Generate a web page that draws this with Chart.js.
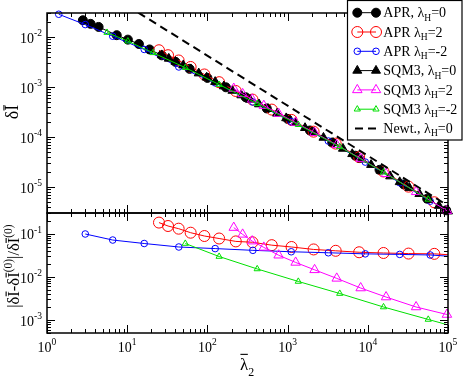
<!DOCTYPE html>
<html><head><meta charset="utf-8">
<script src="https://cdn.jsdelivr.net/npm/chart.js@4.4.1/dist/chart.umd.min.js"></script>
<style>
html,body{margin:0;padding:0;background:#fff;}
#wrap{position:relative;width:463px;height:378px;overflow:hidden;background:#fff;}
canvas{position:absolute;left:0;top:0;}
</style></head><body>
<div id="wrap"><canvas id="bot" width="463" height="378"></canvas><canvas id="top" width="463" height="378"></canvas></div>
<script>
// ---------------- data ----------------
const xTickExp = [0, 1, 2, 3, 4, 5];
const yTopTickExp = [-2, -3, -4, -5];
const yBotTickExp = [-1, -2, -3];

const seriesNames = ['APR, λ_{H}=0', 'APR λ_{H}=2', 'APR λ_{H}=-2', 'SQM3, λ_{H}=0', 'SQM3 λ_{H}=2', 'SQM3 λ_{H}=-2', 'Newt., λ_{H}=0'];

// top panel: delta I vs lambda_2
const lam_APR0 = [2.8, 3.5, 4.4, 7.4, 10.2, 14, 19, 27, 40, 60, 100, 170, 300, 550, 1000, 1900, 3600, 7000, 14000, 28000, 55000, 95000];
const dI_APR0 = [0.0215, 0.0182, 0.0158, 0.0108, 0.0088, 0.0072, 0.0056, 0.00427, 0.00316, 0.00229, 0.00151, 0.00098, 0.00062, 0.00037, 0.000229, 0.000134, 7.7e-5, 4.2e-5, 2.19e-5, 1.12e-5, 5.8e-6, 3.4e-6];

const lam_APR2 = [24.9, 32.3, 43.8, 61.8, 91.7, 140, 226, 365, 635, 1120, 2110, 3980, 7800, 15700, 32200, 67500];
const dI_APR2 = [5.40e-3, 4.30e-3, 3.37e-3, 2.50e-3, 1.77e-3, 1.24e-3, 8.27e-4, 5.57e-4, 3.51e-4, 2.18e-4, 1.27e-4, 7.33e-5, 3.93e-5, 2.03e-5, 1.01e-5, 4.92e-6];

const lam_APRm2 = [1.4, 3.0, 6.6, 16.3, 44, 125, 369, 1110, 3220, 9300, 25000, 60000];
const dI_APRm2 = [0.0283, 0.0176, 0.0103, 0.0056, 0.0025, 1.20e-3, 4.98e-4, 2.02e-4, 8.26e-5, 3.13e-5, 1.21e-5, 5.17e-6];

const lam_SQM0 = [27, 33, 40, 50, 62, 78, 98, 125, 160, 205, 265, 340, 440, 570, 740, 960, 1250, 1650, 2150, 2800, 3700, 4900, 6400, 8400, 11000, 14500, 19000, 25000, 33000, 44000, 58000, 77000, 100000];
const dI_SQM0 = [4.31e-3, 3.68e-3, 3.19e-3, 2.70e-3, 2.26e-3, 1.87e-3, 1.54e-3, 1.26e-3, 1.03e-3, 8.40e-4, 6.81e-4, 5.55e-4, 4.50e-4, 3.63e-4, 2.93e-4, 2.37e-4, 1.90e-4, 1.51e-4, 1.21e-4, 9.65e-5, 7.54e-5, 5.82e-5, 4.55e-5, 3.55e-5, 2.76e-5, 2.11e-5, 1.63e-5, 1.25e-5, 9.58e-6, 7.24e-6, 5.52e-6, 4.19e-6, 3.24e-6];

const lam_SQM2 = [213, 275, 362, 505, 773, 1260, 2170, 4100, 8150, 16900, 40000, 97000];
const dI_SQM2 = [9.27e-4, 7.24e-4, 5.62e-4, 4.21e-4, 2.92e-4, 1.93e-4, 1.21e-4, 6.92e-5, 3.67e-5, 1.83e-5, 7.95e-6, 3.33e-6];

const lam_SQMm2 = [5.6, 10.2, 21, 53, 140, 418, 1360, 4470, 15700, 56700];
const dI_SQMm2 = [0.0122, 0.0082, 0.0048, 2.42e-3, 1.11e-3, 4.62e-4, 1.75e-4, 6.31e-5, 1.96e-5, 5.63e-6];

const lam_Newt = [10, 100000];
const dI_Newt = [0.042, 4.2e-6];

// bottom panel: relative difference (last value of each line-tail array is the line end, no marker)
const relLam_APR2 = [24.9, 32.3, 43.8, 61.8, 91.7, 140, 226, 365, 635, 1120, 2110, 3980, 7800, 15700, 32200, 67500, 100000];
const rel_APR2 = [0.18, 0.15, 0.13, 0.105, 0.088, 0.077, 0.066, 0.063, 0.054, 0.049, 0.043, 0.040, 0.037, 0.0356, 0.0345, 0.034, 0.0325];

const relLam_APRm2 = [3.0, 6.6, 16.3, 44, 125, 369, 1110, 3220, 9300, 25000, 60000, 100000];
const rel_APRm2 = [0.098, 0.071, 0.059, 0.049, 0.045, 0.041, 0.038, 0.036, 0.034, 0.033, 0.032, 0.030];

const relLam_SQM2 = [213, 275, 362, 505, 773, 1260, 2170, 4100, 8150, 16900, 40000, 97000];
const rel_SQM2 = [0.138, 0.096, 0.067, 0.048, 0.0316, 0.0215, 0.0145, 0.0092, 0.0055, 0.0034, 0.0020, 0.00134];

const relLam_SQMm2 = [53, 140, 418, 1360, 4470, 15700, 56700, 100000];
const rel_SQMm2 = [0.059, 0.0295, 0.0152, 0.0078, 0.0041, 0.0020, 0.00103, 0.00077];

// ---------------- helpers ----------------
const FONT = '"Liberation Serif","Times New Roman",serif';
const zip = (xs, ys) => xs.map((x, i) => ({x: x, y: ys[i]}));

const styles = [
  {color: '#000000', fill: '#000000', shape: 'circle', r: 4.5},
  {color: '#ff0000', fill: 'rgba(0,0,0,0)', shape: 'circle', r: 5.5},
  {color: '#0000ff', fill: 'rgba(0,0,0,0)', shape: 'circle', r: 3.3},
  {color: '#000000', fill: '#000000', shape: 'triangle', r: 5.2},
  {color: '#ff00ff', fill: 'rgba(0,0,0,0)', shape: 'triangle', r: 5.5},
  {color: '#00e000', fill: 'rgba(0,0,0,0)', shape: 'triangle', r: 3.6},
  {color: '#000000', dash: [8, 5], width: 2}
];

function parseRich(str) {
  const segs = []; let i = 0, buf = '';
  while (i < str.length) {
    const c = str[i];
    if ((c === '_' || c === '^' || c === '~') && str[i + 1] === '{') {
      if (buf) { segs.push({t: buf, k: 'n'}); buf = ''; }
      const j = str.indexOf('}', i + 2);
      segs.push({t: str.slice(i + 2, j), k: c === '_' ? 'sub' : c === '^' ? 'sup' : 'bar'});
      i = j + 1;
    } else { buf += c; i++; }
  }
  if (buf) segs.push({t: buf, k: 'n'});
  return segs;
}
function drawRich(ctx, str, x, y, size, st, align) {
  const segs = parseRich(str); let w = 0;
  for (const s of segs) {
    s.fs = (s.k === 'sub' || s.k === 'sup') ? size * st.ratio : size;
    ctx.font = s.fs + 'px ' + FONT;
    s.w = ctx.measureText(s.t).width; w += s.w;
  }
  let cx = align === 'right' ? x - w : align === 'center' ? x - w / 2 : x;
  ctx.textAlign = 'left'; ctx.textBaseline = 'alphabetic';
  for (const s of segs) {
    ctx.font = s.fs + 'px ' + FONT;
    const dy = s.k === 'sub' ? size * st.sub : s.k === 'sup' ? -size * st.sup : 0;
    ctx.fillText(s.t, cx, y + dy);
    if (s.k === 'bar') {
      const yy = y - size * st.bar;
      ctx.beginPath(); ctx.lineWidth = 1.1;
      ctx.moveTo(cx + s.w * 0.05, yy); ctx.lineTo(cx + s.w * 0.95, yy); ctx.stroke();
    }
    cx += s.w;
  }
  return w;
}
const tickStyle = {ratio: 0.68, sup: 0.45, sub: 0.25, bar: 0.8};

function drawFrame(chart, opts) {
  const ctx = chart.ctx, a = chart.chartArea, xs = chart.scales.x, ys = chart.scales.y;
  ctx.save();
  ctx.strokeStyle = '#000'; ctx.fillStyle = '#000'; ctx.lineWidth = 1;
  const seg = (x1, y1, x2, y2) => { ctx.beginPath(); ctx.moveTo(x1, y1); ctx.lineTo(x2, y2); ctx.stroke(); };
  const MAJ = 8, MIN = 4;
  for (let k = -1; k <= 6; k++) {
    for (let m = 1; m <= 9; m++) {
      const v = m * Math.pow(10, k);
      if (v < xs.min * 0.999 || v > xs.max * 1.001) continue;
      const p = Math.round(xs.getPixelForValue(v)) + 0.5;
      const L = m === 1 ? MAJ : MIN;
      seg(p, a.bottom, p, a.bottom - L);
      seg(p, a.top, p, a.top + L);
    }
  }
  for (let k = -8; k <= 1; k++) {
    for (let m = 1; m <= 9; m++) {
      const v = m * Math.pow(10, k);
      if (v < ys.min * 0.999 || v > ys.max * 1.001) continue;
      const p = Math.round(ys.getPixelForValue(v)) + 0.5;
      const L = m === 1 ? MAJ : MIN;
      seg(a.left, p, a.left + L, p);
      seg(a.right, p, a.right - L, p);
    }
  }
  ctx.lineWidth = 1.5;
  ctx.strokeRect(a.left, a.top, a.right - a.left, a.bottom - a.top);
  // y tick labels
  for (const e of opts.yExp) {
    const p = ys.getPixelForValue(Math.pow(10, e));
    drawRich(ctx, '10^{' + e + '}', 42, p + 5.7, 14, tickStyle, 'right');
  }
  if (opts.xLabels) {
    for (const e of xTickExp) {
      const p = xs.getPixelForValue(Math.pow(10, e));
      drawRich(ctx, '10^{' + e + '}', p, 351.5, 14, tickStyle, 'center');
    }
  }
  ctx.restore();
}

function drawMarker(ctx, st, x, y) {
  ctx.beginPath();
  if (st.shape === 'circle') {
    ctx.arc(x, y, st.r, 0, Math.PI * 2);
  } else {
    let rad = 0;
    for (let i = 0; i < 3; i++) {
      const px = x + Math.sin(rad) * st.r, py = y - Math.cos(rad) * st.r;
      if (i === 0) ctx.moveTo(px, py); else ctx.lineTo(px, py);
      rad += 2 * Math.PI / 3;
    }
    ctx.closePath();
  }
  ctx.fillStyle = st.fill; ctx.fill();
  ctx.strokeStyle = st.color; ctx.lineWidth = 1; ctx.stroke();
}

const topPlugin = {
  id: 'topDeco',
  afterDraw(chart) {
    drawFrame(chart, {yExp: yTopTickExp, xLabels: false});
    const ctx = chart.ctx;
    ctx.save();
    // y title
    ctx.translate(18, 112); ctx.rotate(-Math.PI / 2);
    ctx.fillStyle = '#000'; ctx.strokeStyle = '#000';
    drawRich(ctx, 'δ~{I}', 0, 0, 18, {ratio: 0.68, sup: 0.45, sub: 0.25, bar: 0.78}, 'center');
    ctx.restore();
    // legend
    ctx.save();
    ctx.fillStyle = '#fff'; ctx.fillRect(347, 0, 115, 140);
    ctx.strokeStyle = '#000'; ctx.lineWidth = 1.2; ctx.strokeRect(347.5, 0.5, 114.5, 139.5);
    for (let i = 0; i < seriesNames.length; i++) {
      const y = 12.7 + 19.3 * i, st = styles[i];
      ctx.beginPath();
      ctx.strokeStyle = st.color; ctx.lineWidth = st.width || 1;
      ctx.setLineDash(st.dash || []);
      if (st.dash) { ctx.moveTo(355, y); ctx.lineTo(379, y); }
      else { ctx.moveTo(357.3, y); ctx.lineTo(376, y); }
      ctx.stroke(); ctx.setLineDash([]);
      if (st.shape) { drawMarker(ctx, st, 357.3, y); drawMarker(ctx, st, 376, y); }
      ctx.fillStyle = '#000'; ctx.strokeStyle = '#000';
      drawRich(ctx, seriesNames[i], 383.3, y + 4.6, 14, {ratio: 0.68, sup: 0.45, sub: 0.24, bar: 0.8}, 'left');
    }
    ctx.restore();
  }
};

const botPlugin = {
  id: 'botDeco',
  afterDraw(chart) {
    drawFrame(chart, {yExp: yBotTickExp, xLabels: true});
    const ctx = chart.ctx;
    ctx.save();
    ctx.fillStyle = '#000'; ctx.strokeStyle = '#000';
    drawRich(ctx, '~{λ}_{2}', 240, 370, 17, {ratio: 0.7, sup: 0.45, sub: 0.38, bar: 0.92}, 'left');
    ctx.translate(19, 266); ctx.rotate(-Math.PI / 2);
    drawRich(ctx, '|δ~{I}-δ~{I}^{(0)}|/δ~{I}^{(0)}', 0, 0, 16.5, {ratio: 0.7, sup: 0.42, sub: 0.25, bar: 0.78}, 'center');
    ctx.restore();
  }
};

function ds(i, data, lineOnlyLast) {
  const st = styles[i];
  const o = {
    label: seriesNames[i], data: data, showLine: true,
    borderColor: st.color, borderWidth: st.width || 1, order: -i,
    backgroundColor: st.fill || 'rgba(0,0,0,0)',
    pointStyle: st.shape || false, pointBorderColor: st.color, pointBackgroundColor: st.fill,
    pointBorderWidth: 1, pointHoverRadius: 0,
    pointRadius: st.shape ? (lineOnlyLast ? (c => c.dataIndex === data.length - 1 ? 0 : st.r) : st.r) : 0,
    clip: st.dash ? undefined : false
  };
  if (st.dash) o.borderDash = st.dash;
  return o;
}

const common = (pad, ymin, ymax) => ({
  responsive: false, animation: false, devicePixelRatio: 1,
  layout: {padding: pad},
  plugins: {legend: {display: false}, tooltip: {enabled: false}},
  events: [],
  scales: {
    x: {type: 'logarithmic', min: 1, max: 1e5, display: false},
    y: {type: 'logarithmic', min: ymin, max: ymax, display: false}
  }
});

new Chart(document.getElementById('top'), {
  type: 'scatter',
  data: {datasets: [
    ds(0, zip(lam_APR0, dI_APR0)),
    ds(1, zip(lam_APR2, dI_APR2)),
    ds(2, zip(lam_APRm2, dI_APRm2)),
    ds(3, zip(lam_SQM0, dI_SQM0)),
    ds(4, zip(lam_SQM2, dI_SQM2)),
    ds(5, zip(lam_SQMm2, dI_SQMm2)),
    ds(6, zip(lam_Newt, dI_Newt))
  ]},
  options: common({left: 47, right: 15, top: 13, bottom: 165}, 3e-6, 3e-2),
  plugins: [topPlugin]
});

new Chart(document.getElementById('bot'), {
  type: 'scatter',
  data: {datasets: [
    ds(1, zip(relLam_APR2, rel_APR2), true),
    ds(2, zip(relLam_APRm2, rel_APRm2), true),
    ds(4, zip(relLam_SQM2, rel_SQM2)),
    ds(5, zip(relLam_SQMm2, rel_SQMm2), true)
  ]},
  options: common({left: 47, right: 15, top: 213, bottom: 45}, 5e-4, 0.3),
  plugins: [botPlugin]
});
</script>
</body></html>
